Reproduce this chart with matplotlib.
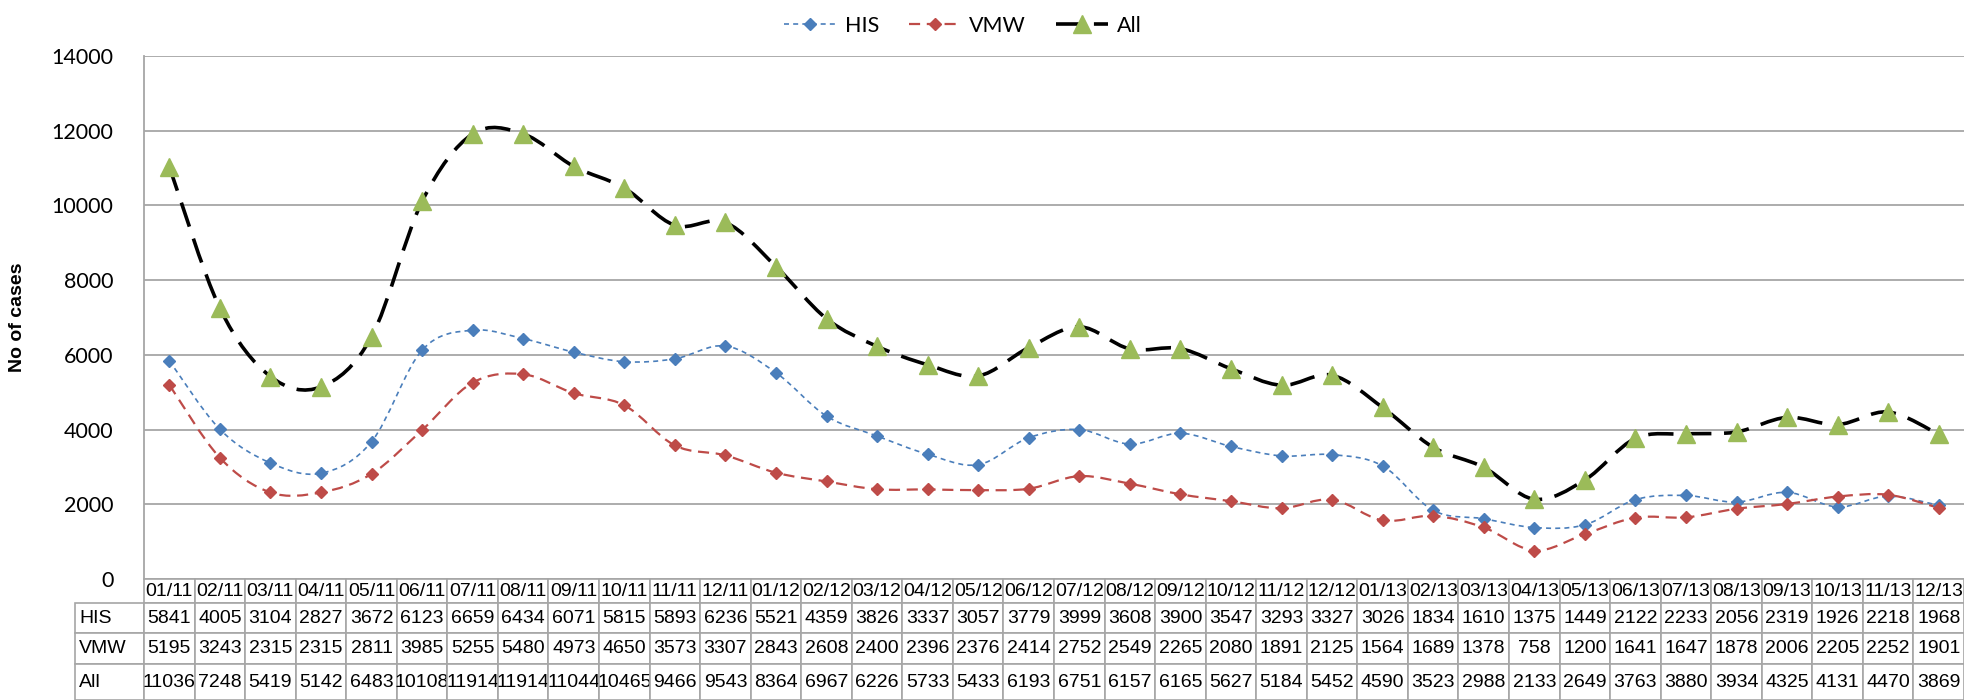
import numpy as np
import matplotlib
matplotlib.use("Agg")
import matplotlib.pyplot as plt
from matplotlib.path import Path
from matplotlib.patches import PathPatch
from matplotlib.lines import Line2D
from matplotlib.table import Table

months = ["01/11", "02/11", "03/11", "04/11", "05/11", "06/11", "07/11", "08/11", "09/11",
          "10/11", "11/11", "12/11", "01/12", "02/12", "03/12", "04/12", "05/12", "06/12",
          "07/12", "08/12", "09/12", "10/12", "11/12", "12/12", "01/13", "02/13", "03/13",
          "04/13", "05/13", "06/13", "07/13", "08/13", "09/13", "10/13", "11/13", "12/13"]
his = [5841, 4005, 3104, 2827, 3672, 6123, 6659, 6434, 6071, 5815, 5893, 6236,
       5521, 4359, 3826, 3337, 3057, 3779, 3999, 3608, 3900, 3547, 3293, 3327,
       3026, 1834, 1610, 1375, 1449, 2122, 2233, 2056, 2319, 1926, 2218, 1968]
vmw = [5195, 3243, 2315, 2315, 2811, 3985, 5255, 5480, 4973, 4650, 3573, 3307,
       2843, 2608, 2400, 2396, 2376, 2414, 2752, 2549, 2265, 2080, 1891, 2125,
       1564, 1689, 1378, 758, 1200, 1641, 1647, 1878, 2006, 2205, 2252, 1901]
all_cases = [11036, 7248, 5419, 5142, 6483, 10108, 11914, 11914, 11044, 10465, 9466, 9543,
             8364, 6967, 6226, 5733, 5433, 6193, 6751, 6157, 6165, 5627, 5184, 5452,
             4590, 3523, 2988, 2133, 2649, 3763, 3880, 3934, 4325, 4131, 4470, 3869]

LABEL_FONT = ["Lato", "DejaVu Sans"]
TABLE_FONT = ["Liberation Sans Narrow", "Liberation Sans", "DejaVu Sans"]


def smooth_path(x, y):
    """Excel-style smoothed line as a cubic Bezier path."""
    pts = np.column_stack([x, y]).astype(float)
    n = len(pts)
    verts = [pts[0]]
    codes = [Path.MOVETO]
    for i in range(n - 1):
        p0 = pts[max(i - 1, 0)]
        p1 = pts[i]
        p2 = pts[i + 1]
        p3 = pts[min(i + 2, n - 1)]
        verts += [p1 + (p2 - p0) / 6, p2 - (p3 - p1) / 6, p2]
        codes += [Path.CURVE4] * 3
    return Path(verts, codes)


fig = plt.figure(figsize=(19.65, 7.0), dpi=100)
ax = fig.add_axes([0.0733, 0.173, 0.9262, 0.747])

x = np.arange(len(months))
series = [
    ("HIS", his, "#4a7ebb", (0, (3, 2.5)), 1.2, "D", 6, "#4a7ebb"),
    ("VMW", vmw, "#be4b48", (0, (5, 3)), 1.6, "D", 6, "#be4b48"),
    ("All", all_cases, "black", (0, (7, 3.5)), 2.6, "^", 13, "#9bbb59"),
]
handles = []
for name, vals, col, ls, lw, mk, ms, mcol in series:
    ax.add_patch(PathPatch(smooth_path(x, vals), fill=False, edgecolor=col,
                           linestyle=ls, linewidth=lw, zorder=3))
    ax.plot(x, vals, linestyle="none", marker=mk, markersize=ms,
            color=mcol, markeredgecolor=mcol, zorder=4)
    handles.append(Line2D([], [], color=col, linestyle=ls, linewidth=lw,
                          marker=mk, markersize=ms, markerfacecolor=mcol,
                          markeredgecolor=mcol, label=name))

ax.set_xlim(-0.5, len(months) - 0.5)
ax.set_ylim(0, 14000)
ax.set_yticks(np.arange(0, 14001, 2000))
ax.set_xticks([])
ax.grid(axis="y", color="#a6a6a6", linewidth=1.3)
ax.set_axisbelow(True)
for side in ["top", "right", "bottom"]:
    ax.spines[side].set_visible(False)
ax.spines["left"].set_color("#a6a6a6")
ax.spines["left"].set_linewidth(1.3)
ax.tick_params(axis="y", length=0, pad=22, labelsize=15.5)
for lab in ax.get_yticklabels():
    lab.set_family(LABEL_FONT)
ax.set_ylabel("No of cases", fontsize=14, fontweight="bold",
              family=["Liberation Sans", "DejaVu Sans"], labelpad=18)

# data table under the plot
ncol = len(months)
label_w = 69 / 1821
tab = Table(ax, bbox=[-label_w, -0.232, 1 + label_w, 0.232])
row_names = ["", "HIS", "VMW", "All"]
rows = [months, his, vmw, all_cases]
heights = [0.8, 1.0, 1.0, 1.2]
for r in range(4):
    c0 = tab.add_cell(r, 0, width=label_w, height=heights[r], text=row_names[r], loc="left")
    c0.set_edgecolor("#a6a6a6")
    c0.set_linewidth(1.2)
    if r == 0:
        c0.visible_edges = ""
    for c in range(ncol):
        cell = tab.add_cell(r, c + 1, width=1 / ncol, height=heights[r],
                            text=str(rows[r][c]), loc="center")
        cell.set_edgecolor("#a6a6a6")
        cell.set_linewidth(1.2)
tab.auto_set_font_size(False)
tab.set_fontsize(14)
for cell in tab.get_celld().values():
    cell.get_text().set_family(TABLE_FONT)
    cell.PAD = 0.06
ax.add_table(tab)

fig.legend(handles=handles, loc="upper center", bbox_to_anchor=(0.49, 1.005),
           ncol=3, frameon=False, handlelength=2.4, handletextpad=0.4,
           columnspacing=1.4, prop={"family": LABEL_FONT, "size": 15.5})

fig.savefig("out.png", dpi=100)
